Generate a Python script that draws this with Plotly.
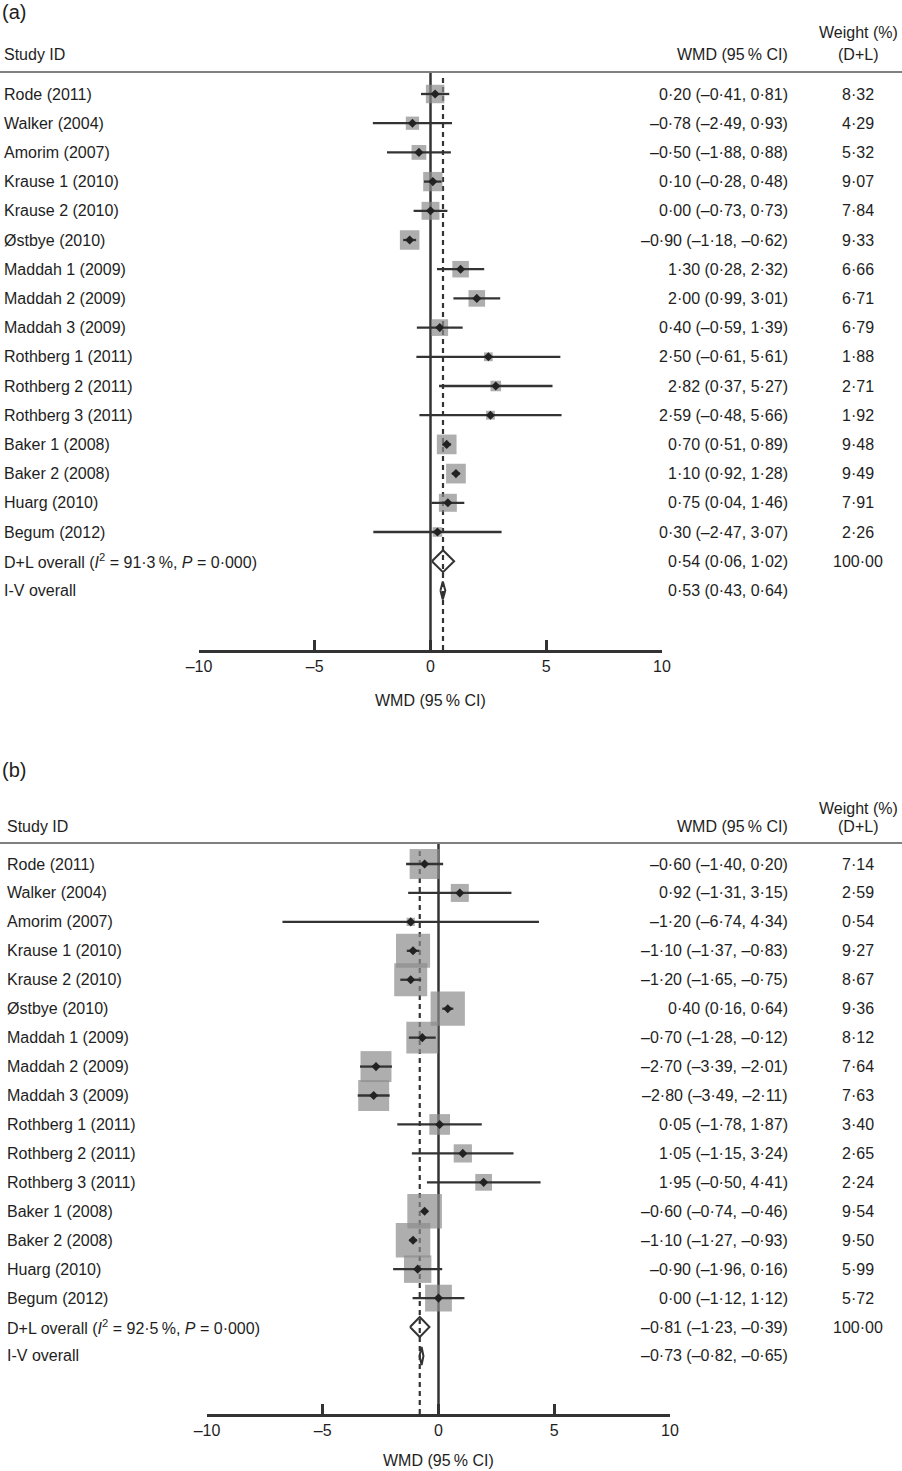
import plotly.graph_objects as go

W, H = 902, 1471

# Studies (same for both panels)
studies = [
    "Rode (2011)", "Walker (2004)", "Amorim (2007)", "Krause 1 (2010)",
    "Krause 2 (2010)", "Østbye (2010)", "Maddah 1 (2009)", "Maddah 2 (2009)",
    "Maddah 3 (2009)", "Rothberg 1 (2011)", "Rothberg 2 (2011)",
    "Rothberg 3 (2011)", "Baker 1 (2008)", "Baker 2 (2008)", "Huarg (2010)",
    "Begum (2012)",
]

# Panel (a)
est_a = [0.20, -0.78, -0.50, 0.10, 0.00, -0.90, 1.30, 2.00, 0.40, 2.50, 2.82, 2.59, 0.70, 1.10, 0.75, 0.30]
lo_a = [-0.41, -2.49, -1.88, -0.28, -0.73, -1.18, 0.28, 0.99, -0.59, -0.61, 0.37, -0.48, 0.51, 0.92, 0.04, -2.47]
hi_a = [0.81, 0.93, 0.88, 0.48, 0.73, -0.62, 2.32, 3.01, 1.39, 5.61, 5.27, 5.66, 0.89, 1.28, 1.46, 3.07]
w_a = [8.32, 4.29, 5.32, 9.07, 7.84, 9.33, 6.66, 6.71, 6.79, 1.88, 2.71, 1.92, 9.48, 9.49, 7.91, 2.26]
dl_a = [0.54, 0.06, 1.02]
iv_a = [0.53, 0.43, 0.64]
i2_a = "91·3"

# Panel (b)
est_b = [-0.60, 0.92, -1.20, -1.10, -1.20, 0.40, -0.70, -2.70, -2.80, 0.05, 1.05, 1.95, -0.60, -1.10, -0.90, 0.00]
lo_b = [-1.40, -1.31, -6.74, -1.37, -1.65, 0.16, -1.28, -3.39, -3.49, -1.78, -1.15, -0.50, -0.74, -1.27, -1.96, -1.12]
hi_b = [0.20, 3.15, 4.34, -0.83, -0.75, 0.64, -0.12, -2.01, -2.11, 1.87, 3.24, 4.41, -0.46, -0.93, 0.16, 1.12]
w_b = [7.14, 2.59, 0.54, 9.27, 8.67, 9.36, 8.12, 7.64, 7.63, 3.40, 2.65, 2.24, 9.54, 9.50, 5.99, 5.72]
dl_b = [-0.81, -1.23, -0.39]
iv_b = [-0.73, -0.82, -0.65]
i2_b = "92·5"

tick_vals = [-10, -5, 0, 5, 10]
tick_text = ["–10", "–5", "0", "5", "10"]

FONT = "Liberation Sans, Arial, sans-serif"
TXT = "#1e1e1e"
DARK = "#333333"
BOX = "#8c8c8c"


def fmt(v):
    return f"{v:.2f}".replace("-", "–").replace(".", "·")


def py(px):
    return 1 - px / H


panels = [
    dict(tag="(a)", ax="", est=est_a, lo=lo_a, hi=hi_a, w=w_a, dl=dl_a, iv=iv_a, i2=i2_a,
         x0=199, x1=662, row0=94, step=29.2, top=72, bottom=650, k=6.4,
         lab_y=12, hdr1=33, hdr2=54, xtitle=700, left=2, dlh=11, ivh=9),
    dict(tag="(b)", ax="2", est=est_b, lo=lo_b, hi=hi_b, w=w_b, dl=dl_b, iv=iv_b, i2=i2_b,
         x0=207, x1=670, row0=864, step=28.94, top=843, bottom=1414, k=11.2,
         lab_y=770, hdr1=808, hdr2=826, xtitle=1460, left=5, dlh=10, ivh=9),
]

fig = go.Figure()
shapes, annotations = [], []
layout = {}

for p in panels:
    xa, ya = "x" + p["ax"], "y" + p["ax"]
    n = len(studies)
    rows = list(range(n))
    r_dl, r_iv = n, n + 1

    # boxes
    fig.add_trace(go.Scatter(
        x=p["est"], y=rows, mode="markers", xaxis=xa, yaxis=ya,
        marker=dict(symbol="square", color=BOX, size=[p["k"] * v ** 0.5 for v in p["w"]],
                    line=dict(width=0)),
        hoverinfo="skip", showlegend=False, cliponaxis=False))
    # CI lines
    cx, cy = [], []
    for r, a, b in zip(rows, p["lo"], p["hi"]):
        cx += [a, b, None]
        cy += [r, r, None]
    fig.add_trace(go.Scatter(x=cx, y=cy, mode="lines", xaxis=xa, yaxis=ya,
                             line=dict(color=DARK, width=2.3), hoverinfo="skip", showlegend=False))
    # point estimates
    fig.add_trace(go.Scatter(
        x=p["est"], y=rows, mode="markers", xaxis=xa, yaxis=ya,
        marker=dict(symbol="diamond", color="#222222", size=7),
        hoverinfo="skip", showlegend=False))
    # overall diamonds
    for (e, a, b), r, hpx in ((p["dl"], r_dl, p["dlh"]), (p["iv"], r_iv, p["ivh"])):
        h = hpx / p["step"]
        fig.add_trace(go.Scatter(
            x=[a, e, b, e, a], y=[r, r - h, r, r + h, r], mode="lines",
            xaxis=xa, yaxis=ya, line=dict(color=DARK, width=2),
            hoverinfo="skip", showlegend=False))

    y_top = (p["top"] - p["row0"]) / p["step"]
    y_bot = (p["bottom"] - p["row0"]) / p["step"]

    layout["xaxis" + p["ax"]] = dict(
        domain=[p["x0"] / W, p["x1"] / W], range=[-10, 10], anchor=ya, automargin=False,
        showgrid=False, zeroline=False, showline=True, linecolor=DARK, linewidth=2.5,
        ticks="inside", ticklen=10, tickwidth=2.5, tickcolor=DARK,
        tickvals=tick_vals, ticktext=tick_text,
        tickfont=dict(size=16, color=TXT, family=FONT), fixedrange=True)
    layout["yaxis" + p["ax"]] = dict(
        domain=[py(p["bottom"]), py(p["top"])], range=[y_bot, y_top], anchor=xa,
        automargin=False, visible=False, showgrid=False, zeroline=False, fixedrange=True)

    # header rule
    shapes.append(dict(type="line", xref="paper", yref="paper", x0=0, x1=1,
                       y0=py(p["top"]), y1=py(p["top"]), line=dict(color="#808080", width=2)))
    # no-effect line
    shapes.append(dict(type="line", xref=xa, yref=ya + " domain", x0=0, x1=0, y0=0, y1=1,
                       line=dict(color=DARK, width=2.5), layer="below"))
    # overall dashed line
    shapes.append(dict(type="line", xref=xa, yref=ya + " domain", x0=p["dl"][0], x1=p["dl"][0],
                       y0=0, y1=1 - 4 / (p["bottom"] - p["top"]),
                       line=dict(color=DARK, width=2.2, dash="5px,4px"), layer="below"))

    def txt(text, x, y, xanchor, size=16, xref="paper", yref="paper"):
        annotations.append(dict(text=text, x=x, y=y, xref=xref, yref=yref, xanchor=xanchor,
                                yanchor="middle", showarrow=False,
                                font=dict(size=size, color=TXT, family=FONT)))

    txt(p["tag"], 0, py(p["lab_y"]), "left", size=20)
    txt("Study ID", p["left"] / W, py(p["hdr2"]), "left")
    txt("WMD (95\u2009% CI)", 790 / W, py(p["hdr2"]), "right")
    txt("Weight (%)", 858 / W, py(p["hdr1"]), "center")
    txt("(D+L)", 858 / W, py(p["hdr2"]), "center")

    for r, s, e, a, b, wt in zip(rows, studies, p["est"], p["lo"], p["hi"], p["w"]):
        txt(s, p["left"] / W, r, "left", yref=ya)
        txt(f"{fmt(e)} ({fmt(a)}, {fmt(b)})", 790 / W, r, "right", yref=ya)
        txt(fmt(wt), 858 / W, r, "center", yref=ya)

    e, a, b = p["dl"]
    txt(f"D+L overall (<i>I</i><sup>2</sup> = {p['i2']}\u2009%, <i>P</i> = 0·000)",
        p["left"] / W, r_dl, "left", yref=ya)
    txt(f"{fmt(e)} ({fmt(a)}, {fmt(b)})", 790 / W, r_dl, "right", yref=ya)
    txt("100·00", 858 / W, r_dl, "center", yref=ya)
    e, a, b = p["iv"]
    txt("I-V overall", p["left"] / W, r_iv, "left", yref=ya)
    txt(f"{fmt(e)} ({fmt(a)}, {fmt(b)})", 790 / W, r_iv, "right", yref=ya)

    # x-axis title
    annotations.append(dict(text="WMD (95\u2009% CI)", x=0, xref=xa, y=py(p["xtitle"]), yref="paper",
                            xanchor="center", yanchor="middle", showarrow=False,
                            font=dict(size=16, color=TXT, family=FONT)))

fig.update_layout(
    width=W, height=H,
    margin=dict(l=0, r=0, t=0, b=0, autoexpand=False),
    paper_bgcolor="white", plot_bgcolor="white",
    font=dict(family=FONT, size=16, color=TXT),
    shapes=shapes, annotations=annotations,
    showlegend=False,
    **layout,
)

# drop the default page margin so the figure sits at the window's corner
fig.write_html("out.html", config={"displayModeBar": False},
               post_script="document.body.style.margin = '0';")
